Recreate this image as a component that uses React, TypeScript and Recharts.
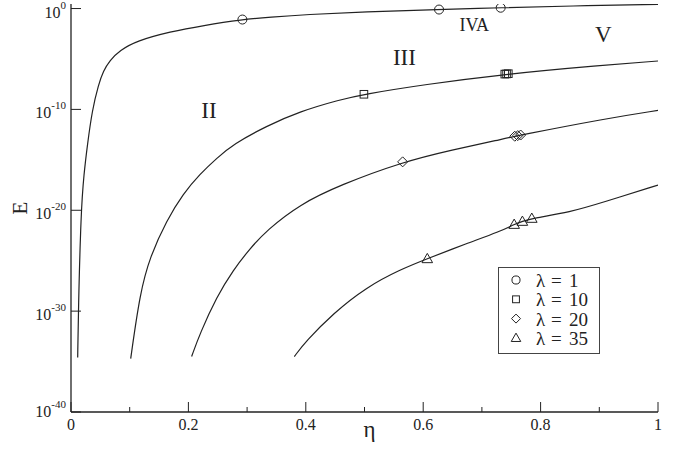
import React from 'react';
import { ComposedChart, Line, Scatter, XAxis, YAxis, Legend, ReferenceDot } from 'recharts';

const FONT = '"Liberation Serif", "Times New Roman", Times, serif';
const INK = '#222';
const TXT = { fontFamily: FONT };

// lambda = 1 curve (eta, log10 E)
const eta1 = [0.0114, 0.0125, 0.017, 0.022, 0.028, 0.036, 0.047, 0.055, 0.066, 0.083, 0.112, 0.169, 0.225, 0.292, 0.339, 0.401, 0.5, 0.627, 0.732, 0.85, 1.0];
const logE1 = [-34.6, -30.0, -20.1, -16.4, -13.5, -10.1, -7.5, -6.2, -5.15, -4.16, -3.2, -2.3, -1.68, -1.09, -0.86, -0.59, -0.33, -0.1, 0.08, 0.25, 0.42];
// lambda = 10
const eta10 = [0.1017, 0.1175, 0.1346, 0.163, 0.191, 0.2198, 0.248, 0.2765, 0.333, 0.39, 0.458, 0.499, 0.6, 0.742, 0.9, 1.0];
const logE10 = [-34.7, -28.2, -24.6, -21.0, -18.35, -16.4, -14.85, -13.45, -11.65, -10.2, -9.04, -8.5, -7.55, -6.48, -5.64, -5.2];
// lambda = 20
const eta20 = [0.2055, 0.2198, 0.248, 0.2765, 0.305, 0.333, 0.39, 0.458, 0.565, 0.65, 0.731, 0.761, 0.912, 1.0];
const logE20 = [-34.5, -32.2, -28.6, -25.9, -23.8, -22.0, -19.4, -17.5, -15.2, -14.0, -13.0, -12.6, -10.9, -10.1];
// lambda = 35
const eta35 = [0.3804, 0.40, 0.447, 0.504, 0.56, 0.607, 0.674, 0.731, 0.755, 0.769, 0.785, 0.85, 0.907, 1.0];
const logE35 = [-34.5, -33.0, -30.2, -27.6, -25.9, -24.8, -23.3, -22.1, -21.4, -21.1, -20.8, -20.2, -19.2, -17.5];

// markers
const mEta1 = [0.292, 0.627, 0.732];
const mLog1 = [-1.09, -0.1, 0.08];
const mEta10 = [0.499, 0.739, 0.742, 0.745];
const mLog10 = [-8.5, -6.5, -6.48, -6.46];
const mEta20 = [0.565, 0.756, 0.761, 0.766];
const mLog20 = [-15.2, -12.66, -12.6, -12.54];
const mEta35 = [0.607, 0.755, 0.769, 0.785];
const mLog35 = [-24.8, -21.4, -21.1, -20.8];

const xTicks = [0, 0.1, 0.2, 0.3, 0.4, 0.5, 0.6, 0.7, 0.8, 0.9, 1];
const xTickLabels = ['0', '', '0.2', '', '0.4', '', '0.6', '', '0.8', '', '1'];
const yTicks = [-40, -30, -20, -10, 0];

const legendNums = ['1', '10', '20', '35'];
const markerKinds = ['circle', 'square', 'diamond', 'triangle'];

const regionNames = ['II', 'III', 'IVA', 'V'];
const regionEta = [0.235, 0.568, 0.687, 0.907];
const regionLogE = [-10.0, -4.82, -1.58, -2.5];
const regionSize = [23, 23, 18, 23];

const zip = (xs: number[], ys: number[]) => xs.map((x, i) => ({ x, y: ys[i] }));

const curves = [zip(eta1, logE1), zip(eta10, logE10), zip(eta20, logE20), zip(eta35, logE35)];
const markers = [zip(mEta1, mLog1), zip(mEta10, mLog10), zip(mEta20, mLog20), zip(mEta35, mLog35)];

const MarkerShape = ({ kind, cx, cy, s = 1 }: { kind: string; cx: number; cy: number; s?: number }) => {
  const common = { fill: 'none', stroke: INK, strokeWidth: 1 };
  if (kind === 'circle') return <circle cx={cx} cy={cy} r={4.5 * s} {...common} />;
  if (kind === 'square') {
    const h = 3.8 * s;
    return <rect x={cx - h} y={cy - h} width={2 * h} height={2 * h} {...common} />;
  }
  if (kind === 'diamond') {
    const h = 5 * s;
    return <polygon points={`${cx},${cy - h} ${cx + h},${cy} ${cx},${cy + h} ${cx - h},${cy}`} {...common} />;
  }
  const h = 5.3 * s;
  return <polygon points={`${cx},${cy - h} ${cx + h},${cy + h * 0.75} ${cx - h},${cy + h * 0.75}`} {...common} />;
};

const BottomTick = (p: any) => {
  const { x, y, payload, index } = p;
  const major = Math.round(payload.value * 10) % 2 === 0;
  return (
    <g>
      <line x1={x} x2={x} y1={y} y2={y - (major ? 10 : 5)} stroke={INK} strokeWidth={1} />
      {major && (
        <text x={x} y={y + 18} textAnchor="middle" style={TXT} fontSize={16} fill={INK}>
          {xTickLabels[index]}
        </text>
      )}
    </g>
  );
};

const TopTick = (p: any) => {
  const { x, y, payload } = p;
  const major = Math.round(payload.value * 10) % 2 === 0;
  return <line x1={x} x2={x} y1={y} y2={y + (major ? 10 : 5)} stroke={INK} strokeWidth={1} />;
};

const LeftTick = (p: any) => {
  const { x, y, payload } = p;
  const v = payload.value;
  const base = v === yTicks[0] ? 5 : 9;
  return (
    <g>
      <line x1={x} x2={x + 10} y1={y} y2={y} stroke={INK} strokeWidth={1} />
      <text x={x - 5} y={y} textAnchor="end" style={TXT} fill={INK}>
        <tspan fontSize={16} dy={base}>10</tspan>
        <tspan fontSize={11} dy={-9}>{String(v)}</tspan>
      </text>
    </g>
  );
};

const RightTick = (p: any) => {
  const { x, y } = p;
  return <line x1={x} x2={x - 10} y1={y} y2={y} stroke={INK} strokeWidth={1} />;
};

const renderLegend = () => (
  <svg width={102} height={87} style={{ display: 'block' }}>
    <rect x={0.5} y={0.5} width={101} height={86} fill="white" stroke="#444" strokeWidth={1} />
    {legendNums.map((n, i) => {
      const cy = 13 + i * 19.3;
      return (
        <g key={n}>
          <MarkerShape kind={markerKinds[i]} cx={18} cy={cy} s={0.9} />
          <text y={cy + 7} style={TXT} fontSize={19} fill={INK}>
            <tspan x={38}>λ</tspan>
            <tspan x={53}>=</tspan>
            <tspan x={71}>{n}</tspan>
          </text>
        </g>
      );
    })}
  </svg>
);

const axisLine = { stroke: INK, strokeWidth: 1.3 };

export default function App() {
  return (
    <div style={{ position: 'absolute', left: 0, top: 0, width: 685, height: 450, background: '#fff', fontFamily: FONT }}>
      <ComposedChart width={685} height={450} margin={{ top: 4, right: 27, bottom: 0, left: 0 }}>
        <XAxis
          dataKey="x"
          type="number"
          domain={[0, 1]}
          ticks={xTicks}
          interval={0}
          height={38}
          tickSize={0}
          tickMargin={0}
          tickLine={false}
          axisLine={axisLine}
          tick={(p: any) => <BottomTick {...p} />}
          allowDataOverflow
          label={{
            position: 'insideBottom',
            content: (p: any) => {
              const vb = p.viewBox;
              return (
                <text x={vb.x + vb.width / 2 + 5} y={vb.y + 25} textAnchor="middle" style={TXT} fontSize={23} fill={INK}>
                  η
                </text>
              );
            },
          }}
        />
        <XAxis
          xAxisId="t"
          orientation="top"
          dataKey="x"
          type="number"
          domain={[0, 1]}
          ticks={xTicks}
          interval={0}
          height={0}
          tickSize={0}
          tickMargin={0}
          tickLine={false}
          axisLine={axisLine}
          tick={(p: any) => <TopTick {...p} />}
          allowDataOverflow
        />
        <YAxis
          dataKey="y"
          type="number"
          domain={[-40, 0.45]}
          ticks={yTicks}
          interval={0}
          width={71}
          tickSize={0}
          tickMargin={0}
          tickLine={false}
          axisLine={axisLine}
          tick={(p: any) => <LeftTick {...p} />}
          allowDataOverflow
          label={{
            position: 'insideLeft',
            content: (p: any) => {
              const vb = p.viewBox;
              const cx = vb.x + 20;
              const cy = vb.y + vb.height / 2;
              return (
                <text
                  x={cx}
                  y={cy}
                  textAnchor="middle"
                  dominantBaseline="central"
                  transform={`rotate(-90, ${cx}, ${cy})`}
                  style={TXT}
                  fontSize={21}
                  fill={INK}
                >
                  E
                </text>
              );
            },
          }}
        />
        <YAxis
          yAxisId="r"
          orientation="right"
          dataKey="y"
          type="number"
          domain={[-40, 0.45]}
          ticks={yTicks}
          interval={0}
          width={0}
          tickSize={0}
          tickMargin={0}
          tickLine={false}
          axisLine={axisLine}
          tick={(p: any) => <RightTick {...p} />}
          allowDataOverflow
        />
        {curves.map((c, i) => (
          <Line
            key={`c${i}`}
            data={c}
            dataKey="y"
            type="basis"
            stroke={INK}
            strokeWidth={1.2}
            dot={false}
            activeDot={false}
            isAnimationActive={false}
            legendType="none"
          />
        ))}
        {markers.map((m, i) => (
          <Scatter
            key={`m${i}`}
            data={m}
            dataKey="y"
            isAnimationActive={false}
            legendType="none"
            shape={(p: any) => <MarkerShape kind={markerKinds[i]} cx={p.cx} cy={p.cy} />}
          />
        ))}
        {regionNames.map((n, i) => (
          <ReferenceDot
            key={n}
            x={regionEta[i]}
            y={regionLogE[i]}
            r={0}
            fill="none"
            stroke="none"
            label={{ value: n, position: 'center', fontSize: regionSize[i], fontFamily: FONT, fill: INK }}
          />
        ))}
        <Legend
          layout="vertical"
          align="center"
          verticalAlign="middle"
          content={renderLegend}
          wrapperStyle={{ left: 498, top: 267, width: 102, height: 87 }}
        />
      </ComposedChart>
    </div>
  );
}
